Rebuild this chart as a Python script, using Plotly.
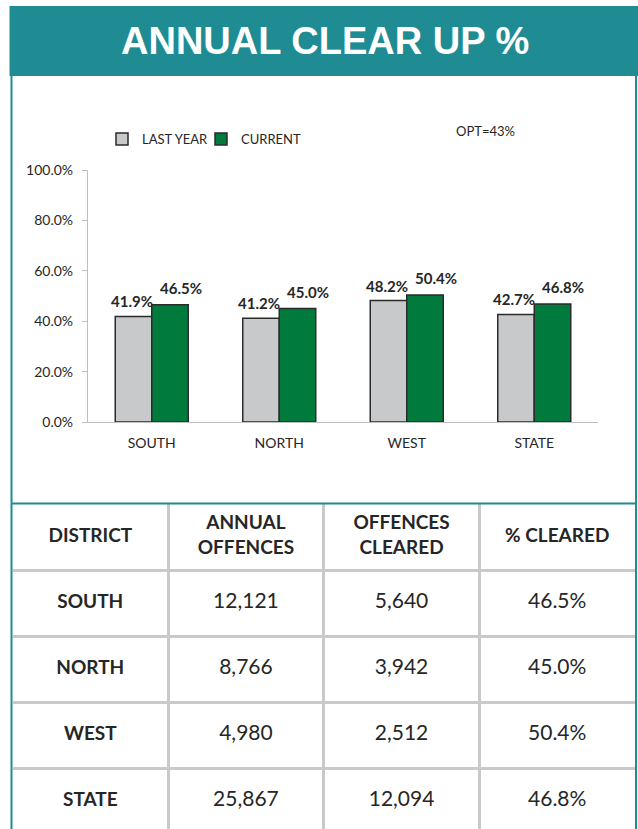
import plotly.graph_objects as go

# ---------------- data ----------------
title_text = "ANNUAL CLEAR UP %"
categories = ["SOUTH", "NORTH", "WEST", "STATE"]
series_names = ["LAST YEAR", "CURRENT"]
last_year = [0.419, 0.412, 0.482, 0.427]
current = [0.465, 0.450, 0.504, 0.468]
opt_label = "OPT=43%"
y_ticks = [0.0, 0.2, 0.4, 0.6, 0.8, 1.0]

table_headers = ["DISTRICT", "ANNUAL<br>OFFENCES", "OFFENCES<br>CLEARED", "% CLEARED"]
annual_offences = [12121, 8766, 4980, 25867]
offences_cleared = [5640, 3942, 2512, 12094]
pct_cleared = current

# ---------------- style / layout constants ----------------
W, H = 638, 829
TEAL = "#1f8c94"
GRAY_BAR = "#c8c9cb"
GREEN_BAR = "#007a3d"
OUTLINE = "#2b2b2b"
TEXT = "#262626"
GRID = "#c9c9c9"
FONT = "Lato, 'Open Sans', sans-serif"


def px(x):
    return x / W


def py(y):
    return 1 - y / H


fig = go.Figure()

# bars
fig.add_trace(go.Bar(
    x=categories, y=last_year, name=series_names[0],
    marker=dict(color=GRAY_BAR, line=dict(color=OUTLINE, width=1.5)),
    xaxis="x", yaxis="y", hoverinfo="skip", legend="legend",
))
fig.add_trace(go.Bar(
    x=categories, y=current, name=series_names[1],
    marker=dict(color=GREEN_BAR, line=dict(color=OUTLINE, width=1.5)),
    xaxis="x", yaxis="y", hoverinfo="skip", legend="legend2",
))

annotations = []
# bar value labels
for cat, v in zip(categories, last_year):
    annotations.append(dict(x=cat, y=v, xref="x", yref="y", xshift=-20, yshift=15,
                            yanchor="middle", xanchor="center",
                            text=f"{v:.1%}", showarrow=False,
                            font=dict(family=FONT, size=15, color=TEXT, weight="bold")))
for cat, v in zip(categories, current):
    annotations.append(dict(x=cat, y=v, xref="x", yref="y", xshift=29, yshift=17,
                            yanchor="middle", xanchor="center",
                            text=f"{v:.1%}", showarrow=False,
                            font=dict(family=FONT, size=15, color=TEXT, weight="bold")))

# title
annotations.append(dict(x=px(325), y=py(41), xref="paper", yref="paper",
                        xanchor="center", yanchor="middle",
                        text=f"<b>{title_text}</b>", showarrow=False,
                        font=dict(family="Liberation Sans, Arial, sans-serif", size=38, color="white")))
# OPT label
annotations.append(dict(x=px(485), y=py(131), xref="paper", yref="paper",
                        xanchor="center", yanchor="middle",
                        text=opt_label, showarrow=False,
                        font=dict(family=FONT, size=13, color=TEXT)))

# ---------------- table as text on its own axes ----------------
n_cols = len(table_headers)
header_x = [i + 0.5 for i in range(n_cols)]
fig.add_trace(go.Scatter(
    x=header_x, y=[0.5] * n_cols, mode="text", text=[f"<b>{h}</b>" for h in table_headers],
    textposition="middle center", textfont=dict(family=FONT, size=19, color=TEXT),
    xaxis="x2", yaxis="y2", showlegend=False, hoverinfo="skip",
))
rows_y = [i + 1.5 for i in range(len(categories))]
fig.add_trace(go.Scatter(
    x=[0.5] * len(categories), y=rows_y, mode="text", text=[f"<b>{c}</b>" for c in categories],
    textposition="middle center", textfont=dict(family=FONT, size=19, color=TEXT),
    xaxis="x2", yaxis="y2", showlegend=False, hoverinfo="skip",
))
cell_x, cell_y, cell_t = [], [], []
for r, (a, c, p) in enumerate(zip(annual_offences, offences_cleared, pct_cleared)):
    for ci, t in enumerate([f"{a:,}", f"{c:,}", f"{p:.1%}"]):
        cell_x.append(ci + 1.5)
        cell_y.append(rows_y[r])
        cell_t.append(t)
fig.add_trace(go.Scatter(
    x=cell_x, y=cell_y, mode="text", text=cell_t,
    textposition="middle center", textfont=dict(family=FONT, size=21, color=TEXT),
    xaxis="x2", yaxis="y2", showlegend=False, hoverinfo="skip",
))

shapes = [
    # header band
    dict(type="rect", xref="paper", yref="paper", x0=px(9.5), x1=1, y0=py(76), y1=py(6),
         fillcolor=TEAL, line=dict(width=0), layer="below"),
    # frame lines
    dict(type="line", xref="paper", yref="paper", x0=px(11.5), x1=px(11.5), y0=py(76), y1=0,
         line=dict(color=TEAL, width=2)),
    dict(type="line", xref="paper", yref="paper", x0=px(636), x1=px(636), y0=py(76), y1=0,
         line=dict(color=TEAL, width=2)),
    dict(type="line", xref="paper", yref="paper", x0=px(11.5), x1=px(636), y0=py(503.5), y1=py(503.5),
         line=dict(color=TEAL, width=2)),
]

legend_common = dict(orientation="h", xanchor="left", y=py(139), yanchor="middle",
                     font=dict(family=FONT, size=13, color=TEXT), itemwidth=30,
                     bgcolor="rgba(0,0,0,0)")

fig.update_layout(
    width=W, height=H, autosize=False,
    margin=dict(l=0, r=0, t=0, b=0, pad=0, autoexpand=False),
    paper_bgcolor="white", plot_bgcolor="rgba(0,0,0,0)",
    font=dict(family=FONT, color=TEXT),
    barmode="group", bargap=0.4275, bargroupgap=0,
    showlegend=True,
    legend=dict(x=px(102), **legend_common),
    legend2=dict(x=px(201), **legend_common),
    xaxis=dict(domain=[px(88), px(598)], showline=True, linecolor="#bfbfbf", linewidth=1.2,
               ticks="", showgrid=False, tickfont=dict(family=FONT, size=14, color=TEXT),
               ticklabelstandoff=8, fixedrange=True, automargin=False),
    yaxis=dict(domain=[py(422), py(170)], range=[0, 1], tickvals=y_ticks, tickformat=".1%",
               showline=True, linecolor="#bfbfbf", linewidth=1.2, ticks="outside", ticklen=5,
               tickcolor="#bfbfbf", showgrid=False, zeroline=False,
               tickfont=dict(family=FONT, size=14, color=TEXT), ticklabelstandoff=6,
               fixedrange=True, automargin=False),
    xaxis2=dict(domain=[px(12.5), px(635)], range=[0, n_cols], tickvals=[1, 2, 3],
                showgrid=True, gridcolor=GRID, gridwidth=2.5, showticklabels=False,
                zeroline=False, showline=False, anchor="y2", fixedrange=True, automargin=False),
    yaxis2=dict(domain=[0, py(504)], range=[4.924, 0], tickvals=[1, 2, 3, 4],
                showgrid=True, gridcolor=GRID, gridwidth=3, showticklabels=False,
                zeroline=False, showline=False, anchor="x2", fixedrange=True, automargin=False),
    shapes=shapes,
    annotations=annotations,
)

fig.write_html("out.html", config={"displayModeBar": False},
               post_script="document.body.style.margin='0px';document.body.style.overflow='hidden';")
